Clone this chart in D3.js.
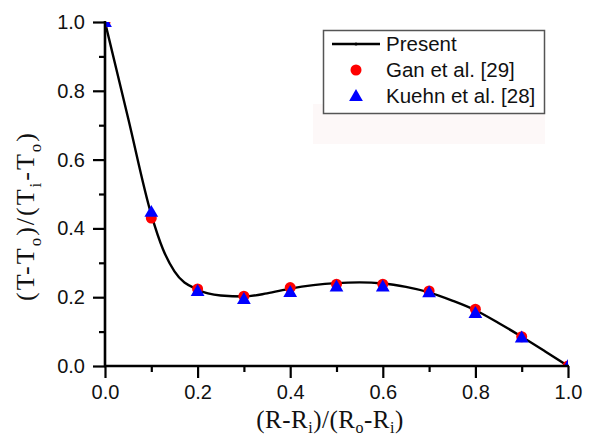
<!DOCTYPE html>
<html>
<head>
<meta charset="utf-8">
<script src="https://cdn.jsdelivr.net/npm/d3@7"></script>
<style>
  body { margin: 0; background: #fff; }
  svg { display: block; }
</style>
</head>
<body>
<div id="chart"></div>
<script>
// chart size
var width = 597;
var height = 438;
// plot area edges in pixels
var margin = { top: 22, right: 29, bottom: 72, left: 105 };

// data
var xPositions = [0, 0.1, 0.2, 0.3, 0.4, 0.5, 0.6, 0.7, 0.8, 0.9, 1.0];
var ganValues = [1.0, 0.43, 0.224, 0.203, 0.228, 0.238, 0.238, 0.218, 0.165, 0.085, 0.0];
var kuehnValues = [1.0, 0.448, 0.218, 0.195, 0.215, 0.231, 0.231, 0.214, 0.154, 0.083, 0.0];

var presentX = [0, 0.05, 0.1, 0.125, 0.15, 0.2, 0.25, 0.3, 0.35, 0.4, 0.45, 0.5, 0.55, 0.6, 0.65, 0.7, 0.75, 0.8, 0.85, 0.9, 0.95, 1.0];
var presentY = [1.0, 0.72, 0.44, 0.34, 0.275, 0.222, 0.205, 0.202, 0.211, 0.225, 0.235, 0.241, 0.243, 0.24, 0.23, 0.214, 0.19, 0.162, 0.125, 0.085, 0.043, 0.0];

var xTicks = [0, 0.2, 0.4, 0.6, 0.8, 1.0];
var yTicks = [0, 0.2, 0.4, 0.6, 0.8, 1.0];
var minorTicks = [0.1, 0.3, 0.5, 0.7, 0.9];

var legendLabels = ["Present", "Gan et al. [29]", "Kuehn et al. [28]"];

var svg = d3.select("#chart")
  .append("svg")
  .attr("width", width)
  .attr("height", height);

var x = d3.scaleLinear().domain([0, 1]).range([margin.left, width - margin.right]);
var y = d3.scaleLinear().domain([0, 1]).range([height - margin.bottom, margin.top]);

// clip so the end markers are cut at the axes like the original
svg.append("clipPath")
  .attr("id", "plot-clip")
  .append("rect")
  .attr("x", x(0))
  .attr("y", y(1))
  .attr("width", x(1) - x(0))
  .attr("height", y(0) - y(1));

// faint pink patch under the legend
svg.append("rect")
  .attr("x", 313).attr("y", 104)
  .attr("width", 232).attr("height", 40)
  .style("fill", "#fdf8f8");

var plot = svg.append("g").attr("clip-path", "url(#plot-clip)");

// present curve
var line = d3.line()
  .x(d => x(d[0]))
  .y(d => y(d[1]))
  .curve(d3.curveMonotoneX);

plot.append("path")
  .datum(presentX.map((v, i) => [v, presentY[i]]))
  .attr("d", line)
  .style("fill", "none")
  .style("stroke", "#000")
  .style("stroke-width", 2.4);

// Gan et al. circles
plot.selectAll("circle.gan")
  .data(xPositions.map((v, i) => [v, ganValues[i]]))
  .enter()
  .append("circle")
  .attr("class", "gan")
  .attr("cx", d => x(d[0]))
  .attr("cy", d => y(d[1]))
  .attr("r", 5.5)
  .style("fill", "#ff0000");

// Kuehn et al. triangles
var triangle = d3.symbol().type(d3.symbolTriangle).size(82);
plot.selectAll("path.kuehn")
  .data(xPositions.map((v, i) => [v, kuehnValues[i]]))
  .enter()
  .append("path")
  .attr("class", "kuehn")
  .attr("d", triangle)
  .attr("transform", d => "translate(" + x(d[0]) + "," + (y(d[1]) + 1) + ")")
  .style("fill", "#0000ff");

// axes
var xAxis = svg.append("g")
  .attr("transform", "translate(0," + y(0) + ")")
  .call(d3.axisBottom(x).tickValues(xTicks).tickSize(12).tickFormat(d3.format(".1f")));
xAxis.append("g")
  .call(d3.axisBottom(x).tickValues(minorTicks).tickSize(6).tickFormat(""));

var yAxis = svg.append("g")
  .attr("transform", "translate(" + x(0) + ",0)")
  .call(d3.axisLeft(y).tickValues(yTicks).tickSize(12).tickFormat(d3.format(".1f")));
yAxis.append("g")
  .call(d3.axisLeft(y).tickValues(minorTicks).tickSize(6).tickFormat(""));

svg.selectAll(".domain").remove();

svg.append("line")
  .attr("x1", x(0) - 1).attr("x2", x(1) + 1)
  .attr("y1", y(0)).attr("y2", y(0))
  .style("stroke", "#000").style("stroke-width", 2.6);
svg.append("line")
  .attr("x1", x(0)).attr("x2", x(0))
  .attr("y1", y(1) - 1).attr("y2", y(0) + 1)
  .style("stroke", "#000").style("stroke-width", 2.6);

svg.selectAll(".tick line")
  .style("stroke", "#000")
  .style("stroke-width", 2.2);

svg.selectAll(".tick text")
  .style("font-family", "'Liberation Sans', Arial, sans-serif")
  .style("font-size", "20px")
  .style("fill", "#111");
xAxis.selectAll(".tick text").attr("dy", "0.9em");
yAxis.selectAll(".tick text").attr("x", -20);

// axis titles
var serif = "'Liberation Serif', 'Times New Roman', serif";

var xTitle = svg.append("text")
  .attr("x", 330)
  .attr("y", 428)
  .attr("text-anchor", "middle")
  .style("font-family", serif)
  .style("font-size", "25px")
  .style("letter-spacing", "0.5px")
  .style("fill", "#111");
xTitle.append("tspan").text("(R-R");
xTitle.append("tspan").attr("dy", 5).style("font-size", "16px").text("i");
xTitle.append("tspan").attr("dy", -5).text(")/(R");
xTitle.append("tspan").attr("dy", 5).style("font-size", "16px").text("o");
xTitle.append("tspan").attr("dy", -5).text("-R");
xTitle.append("tspan").attr("dy", 5).style("font-size", "16px").text("i");
xTitle.append("tspan").attr("dy", -5).text(")");

var yTitle = svg.append("text")
  .attr("transform", "translate(34,216) rotate(-90)")
  .attr("text-anchor", "middle")
  .style("font-family", serif)
  .style("font-size", "26px")
  .style("letter-spacing", "2px")
  .style("fill", "#111");
yTitle.append("tspan").text("(T-T");
yTitle.append("tspan").attr("dy", 7).style("font-size", "17px").text("o");
yTitle.append("tspan").attr("dy", -7).text(")/(T");
yTitle.append("tspan").attr("dy", 7).style("font-size", "17px").text("i");
yTitle.append("tspan").attr("dy", -7).text("-T");
yTitle.append("tspan").attr("dy", 7).style("font-size", "17px").text("o");
yTitle.append("tspan").attr("dy", -7).text(")");

// legend
var legend = svg.append("g");
legend.append("rect")
  .attr("x", 323.5).attr("y", 30.5)
  .attr("width", 221).attr("height", 83)
  .style("fill", "#fff")
  .style("stroke", "#555")
  .style("stroke-width", 1.5);

var rowY = [44, 70, 96];
legend.append("line")
  .attr("x1", 332).attr("x2", 380)
  .attr("y1", rowY[0]).attr("y2", rowY[0])
  .style("stroke", "#000").style("stroke-width", 2.4);
legend.append("circle")
  .attr("cx", 356).attr("cy", rowY[0]).attr("r", 1.6)
  .style("fill", "#000");
legend.append("circle")
  .attr("cx", 356).attr("cy", rowY[1]).attr("r", 5.5)
  .style("fill", "#ff0000");
legend.append("path")
  .attr("d", triangle)
  .attr("transform", "translate(356," + (rowY[2] + 1) + ")")
  .style("fill", "#0000ff");

legend.selectAll("text")
  .data(legendLabels)
  .enter()
  .append("text")
  .attr("x", 386)
  .attr("y", (d, i) => rowY[i] + 7)
  .style("font-family", "'Liberation Sans', Arial, sans-serif")
  .style("font-size", "20.5px")
  .style("fill", "#111")
  .text(d => d);
</script>
</body>
</html>
